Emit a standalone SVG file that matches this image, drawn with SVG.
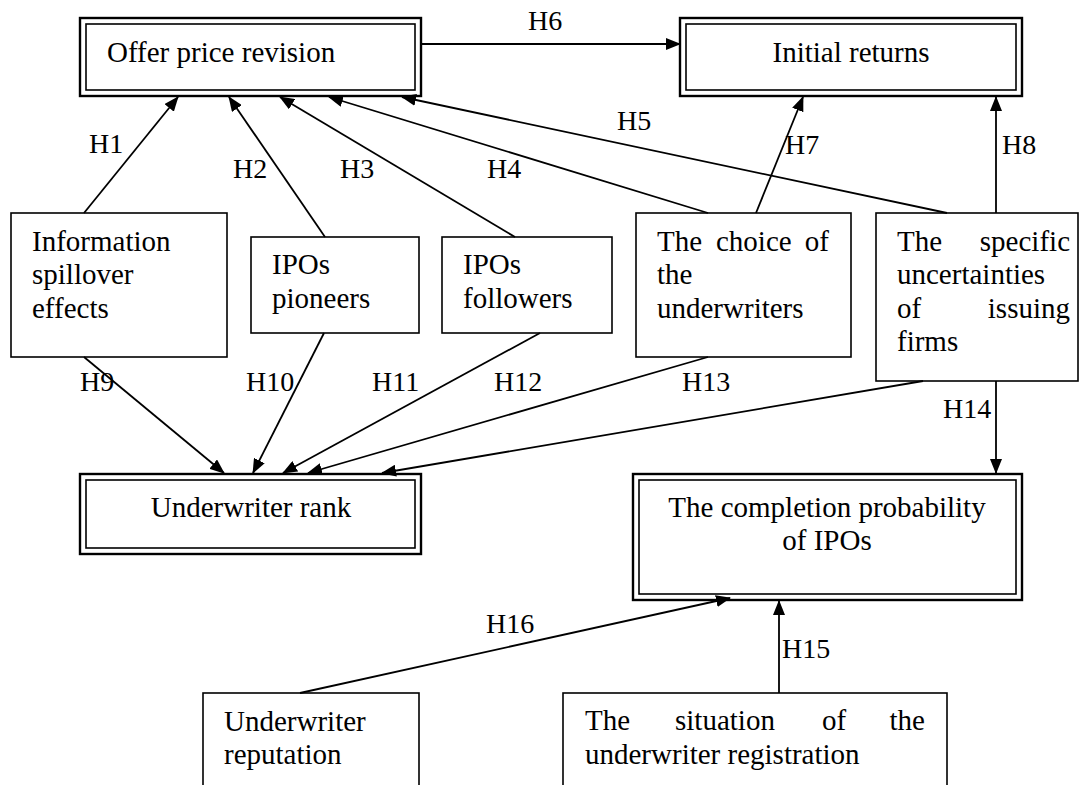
<svg xmlns="http://www.w3.org/2000/svg" width="1080" height="785" viewBox="0 0 1080 785">
<style>
text{font-family:"Liberation Serif","Times New Roman",serif;font-size:29px;fill:#000}
.lbl{font-size:28px}
.box{fill:#fff;stroke:#000;stroke-width:1.6}
.dbo{fill:#fff;stroke:#000;stroke-width:2.4}
.dbi{fill:none;stroke:#000;stroke-width:1.6}
.c{text-anchor:middle}
.e{text-anchor:end}
.con line{stroke:#000;stroke-width:1.8;marker-end:url(#ah)}
</style>
<defs>
<marker id="ah" markerUnits="userSpaceOnUse" markerWidth="15" markerHeight="12" refX="14" refY="6" orient="auto">
<path d="M0,0 L15,6 L0,12 z" fill="#000"/>
</marker>
</defs>
<rect width="1080" height="785" fill="#fff"/>

<g id="offer">
<rect class="dbo" x="80" y="18" width="341" height="78"/>
<rect class="dbi" x="86" y="24" width="329" height="66"/>
<text x="107" y="62">Offer price revision</text>
</g>
<g id="initial">
<rect class="dbo" x="680" y="18" width="342" height="78"/>
<rect class="dbi" x="686" y="24" width="330" height="66"/>
<text class="c" x="851" y="62">Initial returns</text>
</g>
<g id="spillover">
<rect class="box" x="11" y="213" width="216" height="144"/>
<text x="32" y="251">Information</text>
<text x="32" y="284">spillover</text>
<text x="32" y="318">effects</text>
</g>
<g id="pioneers">
<rect class="box" x="251" y="237" width="168" height="96"/>
<text x="272" y="274">IPOs</text>
<text x="272" y="308">pioneers</text>
</g>
<g id="followers">
<rect class="box" x="442" y="237" width="170" height="96"/>
<text x="463" y="274">IPOs</text>
<text x="463" y="308">followers</text>
</g>
<g id="choice">
<rect class="box" x="636" y="213" width="215" height="144"/>
<text x="657" y="251">The</text>
<text x="716" y="251">choice</text>
<text class="e" x="829" y="251">of</text>
<text x="657" y="284">the</text>
<text x="657" y="318">underwriters</text>
</g>
<g id="specific">
<rect class="box" x="876" y="213" width="202" height="168"/>
<text x="897" y="251">The</text>
<text class="e" x="1070" y="251">specific</text>
<text x="897" y="284">uncertainties</text>
<text x="897" y="318">of</text>
<text class="e" x="1070" y="318">issuing</text>
<text x="897" y="351">firms</text>
</g>
<g id="rank">
<rect class="dbo" x="80" y="474" width="341" height="80"/>
<rect class="dbi" x="86" y="480" width="329" height="68"/>
<text class="c" x="251" y="517">Underwriter rank</text>
</g>
<g id="completion">
<rect class="dbo" x="633" y="474" width="389" height="126"/>
<rect class="dbi" x="639" y="480" width="377" height="114"/>
<text class="c" x="827" y="517">The completion probability</text>
<text class="c" x="827" y="550">of IPOs</text>
</g>
<g id="reputation">
<rect class="box" x="203" y="693" width="216" height="110"/>
<text x="224" y="731">Underwriter</text>
<text x="224" y="764">reputation</text>
</g>
<g id="registration">
<rect class="box" x="563" y="693" width="384" height="110"/>
<text x="585" y="730">The</text>
<text x="675" y="730">situation</text>
<text x="822" y="730">of</text>
<text class="e" x="925" y="730">the</text>
<text x="585" y="764">underwriter registration</text>
</g>

<g id="connectors" class="con">
<line x1="84" y1="213" x2="178" y2="97"/>
<line x1="325" y1="237" x2="229" y2="97"/>
<line x1="515" y1="237" x2="280" y2="97"/>
<line x1="708" y1="213" x2="329" y2="97"/>
<line x1="947" y1="213" x2="402" y2="97"/>
<line x1="422" y1="44" x2="680" y2="44"/>
<line x1="756" y1="213" x2="803" y2="97"/>
<line x1="996" y1="213" x2="996" y2="97"/>
<line x1="84" y1="357" x2="224" y2="473"/>
<line x1="324" y1="333" x2="253" y2="473"/>
<line x1="540" y1="333" x2="283" y2="473"/>
<line x1="708" y1="357" x2="308" y2="473"/>
<line x1="923" y1="381" x2="382" y2="473"/>
<line x1="996" y1="381" x2="996" y2="473"/>
<line x1="779" y1="693" x2="779" y2="601"/>
<line x1="300" y1="693" x2="730" y2="598"/>
</g>
<g id="labels">
<text class="lbl" x="89" y="153">H1</text>
<text class="lbl" x="233" y="178">H2</text>
<text class="lbl" x="340" y="178">H3</text>
<text class="lbl" x="487" y="178">H4</text>
<text class="lbl" x="617" y="130">H5</text>
<text class="lbl" x="528" y="30">H6</text>
<text class="lbl" x="785" y="154">H7</text>
<text class="lbl" x="1002" y="154">H8</text>
<text class="lbl" x="80" y="391">H9</text>
<text class="lbl" x="246" y="391">H10</text>
<text class="lbl" x="372" y="391">H11</text>
<text class="lbl" x="494" y="391">H12</text>
<text class="lbl" x="682" y="391">H13</text>
<text class="lbl" x="943" y="418">H14</text>
<text class="lbl" x="782" y="658">H15</text>
<text class="lbl" x="486" y="633">H16</text>
</g>
</svg>
